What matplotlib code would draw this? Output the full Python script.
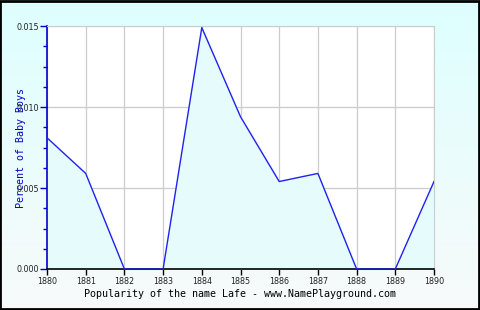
import numpy as np
import matplotlib.pyplot as plt
from matplotlib.ticker import MultipleLocator
from matplotlib.patches import Rectangle

# data
years = [1880, 1881, 1882, 1883, 1884, 1885, 1886, 1887, 1888, 1889, 1890]
percent = [0.0081, 0.0059, 0.0, 0.0, 0.0149, 0.0094, 0.0054, 0.0059, 0.0, 0.0, 0.0054]
y_ticks = [0.000, 0.005, 0.010, 0.015]
title = "Popularity of the name Lafe - www.NamePlayground.com"
ylabel = "Percent of Baby Boys"

fig = plt.figure(figsize=(4.8, 3.1), dpi=100)

# background gradient
bg = fig.add_axes([0, 0, 1, 1], zorder=-10)
grad = np.linspace(0, 1, 256).reshape(-1, 1)
top = np.array([0.87, 1.0, 1.0])
bottom = np.array([0.97, 0.98, 0.98])
img = top + (bottom - top) * grad[:, :, None]
bg.imshow(img, aspect="auto", extent=[0, 1, 0, 1])
bg.add_patch(Rectangle((0.001, 0.002), 0.997, 0.995, transform=bg.transAxes,
                       fill=False, edgecolor="black", linewidth=2))
bg.set_axis_off()

ax = fig.add_axes([47 / 480, 41 / 310, 387 / 480, 243 / 310])
ax.set_facecolor("white")
ax.fill_between(years, percent, 0, color="#e6fcfc", zorder=1)
ax.plot(years, percent, color="#2222ee", linewidth=1.0, zorder=3)

ax.set_xlim(1880, 1890)
ax.set_ylim(0, 0.015)
ax.set_xticks(years)
ax.set_yticks(y_ticks)
ax.set_yticklabels(["%.3f" % v for v in y_ticks])
ax.yaxis.set_minor_locator(MultipleLocator(0.00125))
ax.grid(True, color="#cccccc", linewidth=0.9, zorder=0)
ax.set_axisbelow(True)

for s in ["top", "right"]:
    ax.spines[s].set_color("#cccccc")
ax.spines["left"].set_color("#0000cc")
ax.spines["bottom"].set_color("black")
ax.spines["left"].set_linewidth(1.2)
ax.spines["bottom"].set_linewidth(1.2)

ax.tick_params(axis="y", which="major", colors="#0000cc", labelcolor="#222222",
               length=5, width=1, labelsize=5.8, pad=1)
ax.tick_params(axis="y", which="minor", colors="#0000cc", length=3, width=1)
ax.tick_params(axis="x", colors="black", labelcolor="#222222", length=4, width=1,
               labelsize=5.8, pad=2)

ax.set_ylabel(ylabel, family="DejaVu Sans Mono", fontsize=7.2, color="#0000cc", labelpad=-7)
ax.set_xlabel(title, family="DejaVu Sans Mono", fontsize=7.2, color="black", labelpad=2)

fig.savefig("out.png", dpi=100)
